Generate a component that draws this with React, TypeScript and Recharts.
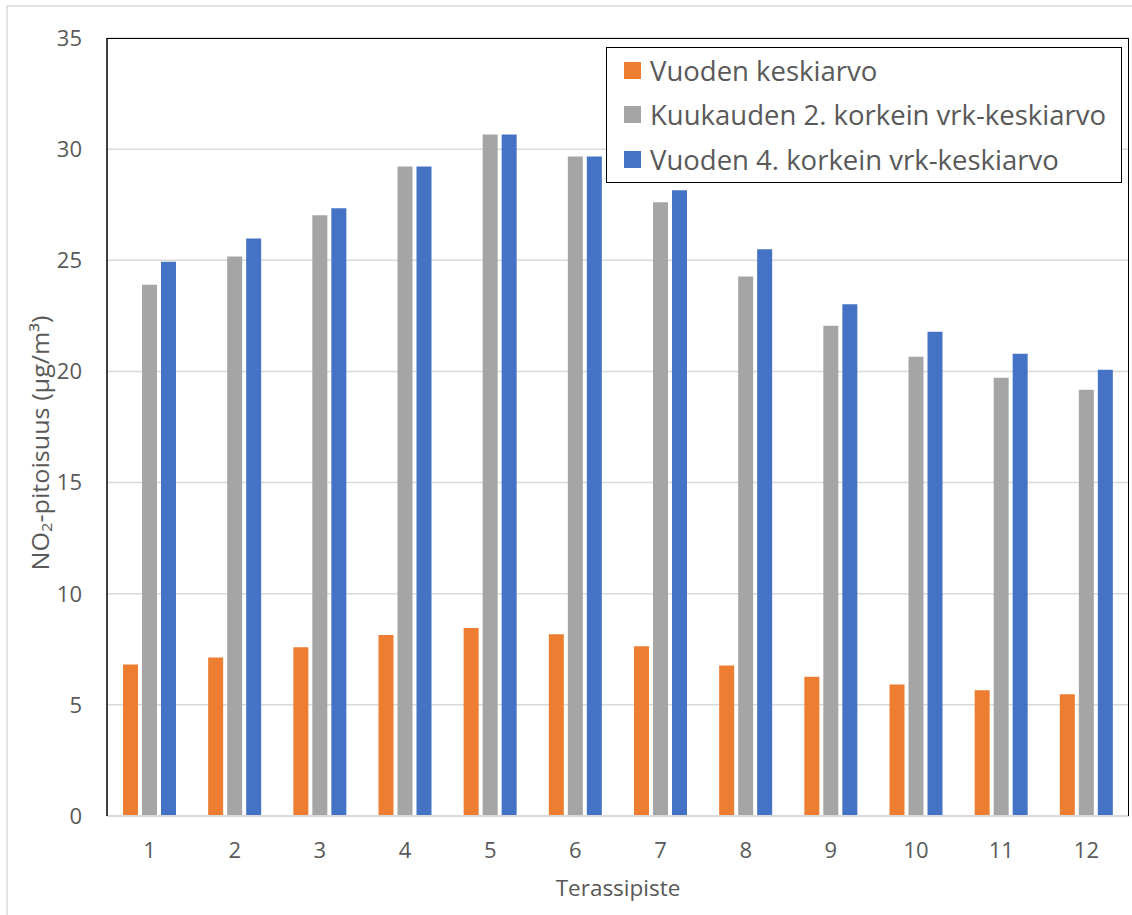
import React from 'react';
import { BarChart, Bar, XAxis, YAxis, CartesianGrid } from 'recharts';

const points = ['1', '2', '3', '4', '5', '6', '7', '8', '9', '10', '11', '12'];
const yearMean = [6.82, 7.13, 7.59, 8.14, 8.46, 8.18, 7.64, 6.77, 6.26, 5.92, 5.66, 5.48];
const month2nd = [23.9, 25.17, 27.03, 29.22, 30.66, 29.67, 27.61, 24.27, 22.05, 20.66, 19.72, 19.18];
const year4th = [24.93, 25.98, 27.34, 29.22, 30.66, 29.67, 28.15, 25.5, 23.02, 21.79, 20.8, 20.08];
const yTicks = [0, 5, 10, 15, 20, 25, 30, 35];

const seriesNames = [
  'Vuoden keskiarvo',
  'Kuukauden 2. korkein vrk-keskiarvo',
  'Vuoden 4. korkein vrk-keskiarvo',
];
const COLORS = ['#ED7D31', '#A5A5A5', '#4472C4'];

const data = points.map((p, i) => ({
  name: p,
  a: yearMean[i],
  b: month2nd[i],
  c: year4th[i],
}));

const FONT = '"Open Sans", "Noto Sans", sans-serif';
const TEXT = '#595959';

// legend drawn as a plain box over the plot, like the Excel one
const LegendBox = () => (
  <div
    style={{
      position: 'absolute',
      left: 606,
      top: 47,
      width: 516,
      height: 136,
      border: '1.5px solid #000',
      background: '#fff',
      boxSizing: 'border-box',
      paddingTop: 0,
      fontFamily: FONT,
      fontSize: 27.5,
      lineHeight: 1,
      color: TEXT,
    }}
  >
    {seriesNames.map((n, i) => (
      <div key={n} style={{ display: 'flex', alignItems: 'center', height: 44.5 }}>
        <span style={{ width: 17, height: 17, background: COLORS[i], marginLeft: 17, marginRight: 9, flex: 'none' }} />
        <span style={{ whiteSpace: 'nowrap' }}>{n}</span>
      </div>
    ))}
  </div>
);

const YLabel = (props: any) => {
  const vb = props.viewBox || {};
  const cx = 40;
  const cy = vb.y + vb.height / 2 + 16;
  return (
    <text
      x={cx}
      y={cy}
      transform={`rotate(-90 ${cx} ${cy})`}
      textAnchor="middle"
      dominantBaseline="central"
      fontFamily={FONT}
      fontSize={23}
      fill={TEXT}
      textLength={255}
      lengthAdjust="spacingAndGlyphs"
    >
      NO<tspan fontSize={15} dy={6}>2</tspan>
      <tspan dy={-6}>-pitoisuus (µg/m³)</tspan>
    </text>
  );
};

const XLabel = (props: any) => {
  const vb = props.viewBox || {};
  return (
    <text x={vb.x + vb.width / 2} y={vb.y + 80} textAnchor="middle" fontFamily={FONT} fontSize={22.5} fill={TEXT}>
      Terassipiste
    </text>
  );
};

export default function App() {
  return (
    <div style={{ position: 'absolute', left: 0, top: 0, width: 1132, height: 915, background: '#fff', overflow: 'hidden' }}>
      <div
        style={{
          position: 'absolute',
          left: 6,
          top: 5,
          width: 1140,
          height: 920,
          border: '2px solid #e3e3e3',
        }}
      />
      <div style={{ position: 'absolute', left: 0, top: 0 }}>
        <BarChart
          width={1132}
          height={915}
          data={data}
          margin={{ top: 38, right: 3, bottom: 39, left: 0 }}
          barSize={15}
          barGap={4}
        >
          <CartesianGrid vertical={false} stroke="#d9d9d9" strokeWidth={1.5} />
          <XAxis
            dataKey="name"
            height={60}
            axisLine={{ stroke: '#d9d9d9', strokeWidth: 2 }}
            tickLine={false}
            tickSize={0}
            tickMargin={26}
            tick={{ fill: TEXT, fontSize: 22, fontFamily: FONT }}
            label={<XLabel />}
          />
          <YAxis
            width={107}
            domain={[0, 35]}
            ticks={yTicks}
            interval={0}
            axisLine={{ stroke: '#000', strokeWidth: 1.5 }}
            tickLine={false}
            tickSize={0}
            tickMargin={25}
            tick={{ fill: TEXT, fontSize: 22, fontFamily: FONT }}
            label={<YLabel />}
          />
          <Bar dataKey="a" name={seriesNames[0]} fill={COLORS[0]} isAnimationActive={false} />
          <Bar dataKey="b" name={seriesNames[1]} fill={COLORS[1]} isAnimationActive={false} />
          <Bar dataKey="c" name={seriesNames[2]} fill={COLORS[2]} isAnimationActive={false} />
        </BarChart>
      </div>
      {/* black frame of the plot area (top, right) */}
      <div
        style={{
          position: 'absolute',
          left: 107,
          top: 38,
          width: 1022,
          height: 778,
          borderTop: '1.5px solid #000',
          borderRight: '1.5px solid #000',
          boxSizing: 'border-box',
          pointerEvents: 'none',
        }}
      />
      <LegendBox />
    </div>
  );
}
